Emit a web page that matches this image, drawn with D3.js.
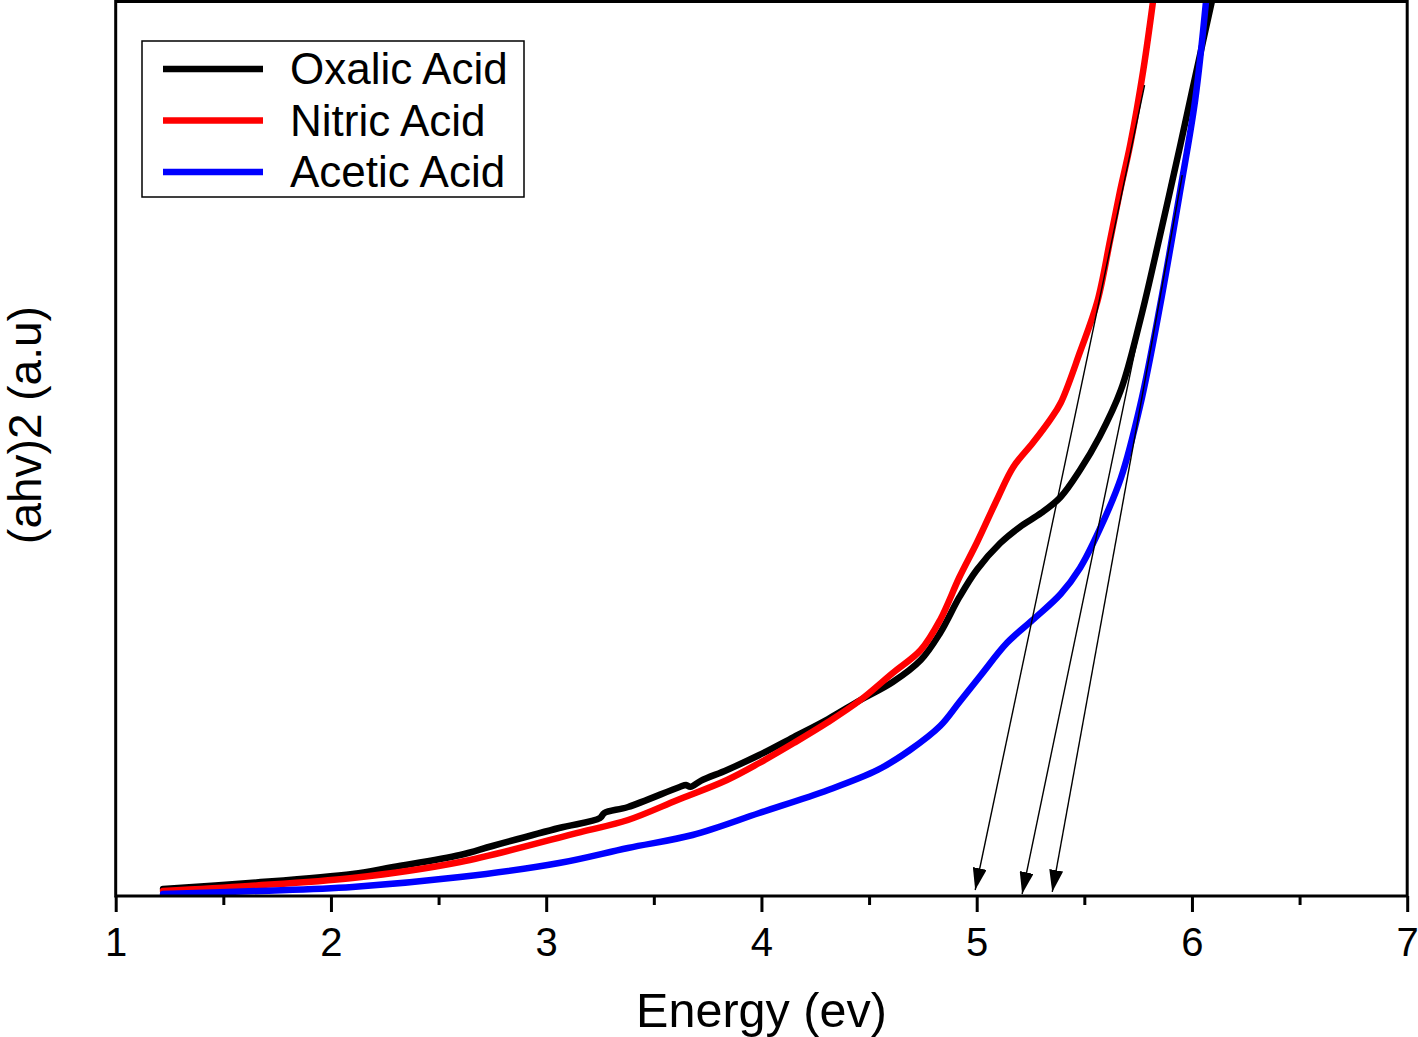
<!DOCTYPE html>
<html>
<head>
<meta charset="utf-8">
<script src="https://cdn.jsdelivr.net/npm/d3@7"></script>
<style>
  html, body { margin: 0; padding: 0; background: #fff; }
  svg { display: block; }
  text { font-family: "Liberation Sans", Arial, sans-serif; fill: #000; }
</style>
</head>
<body>
<svg id="chart" width="1418" height="1037"></svg>
<script>
// ---- Data ----
const seriesNames = ["Oxalic Acid", "Nitric Acid", "Acetic Acid"];
const seriesColors = ["#000000", "#ff0000", "#0000ff"];

const energyOxalic = [1.22, 1.62, 2.10, 2.29, 2.60, 2.75, 3.06, 3.25, 3.27, 3.38, 3.62, 3.65, 3.67, 3.72, 3.84, 3.99, 4.15, 4.31, 4.46, 4.61, 4.74, 4.83, 4.92, 5.00, 5.11, 5.20, 5.30, 5.39, 5.48, 5.57, 5.67, 5.76, 5.85, 5.946, 6.02, 6.094];
const ahvOxalic    = [0.78, 1.45, 2.46, 3.24, 4.58, 5.59, 7.60, 8.72, 9.28, 9.95, 12.19, 12.40, 12.20, 12.90, 14.09, 15.76, 17.77, 19.79, 21.91, 23.92, 26.38, 29.40, 33.43, 36.45, 39.46, 41.25, 42.82, 44.61, 47.62, 51.31, 56.57, 64.39, 73.67, 83.96, 92.12, 100.17];

const energyNitric = [1.22, 1.62, 2.10, 2.60, 3.16, 3.38, 3.61, 3.84, 3.99, 4.15, 4.31, 4.46, 4.61, 4.74, 4.83, 4.92, 5.00, 5.10, 5.17, 5.26, 5.34, 5.39, 5.48, 5.56, 5.62, 5.667, 5.713, 5.774, 5.82];
const ahvNitric    = [0.56, 1.12, 2.01, 3.80, 7.15, 8.50, 10.73, 12.97, 14.87, 17.10, 19.45, 21.91, 24.93, 27.50, 30.86, 35.66, 39.46, 44.61, 47.96, 50.64, 53.21, 55.11, 60.82, 66.41, 73.34, 78.93, 83.96, 92.34, 100.17];

const energyAcetic = [1.22, 1.67, 2.10, 2.60, 3.06, 3.38, 3.68, 3.99, 4.31, 4.54, 4.69, 4.83, 4.92, 5.02, 5.14, 5.26, 5.39, 5.48, 5.57, 5.67, 5.76, 5.85, 5.946, 6.015, 6.066];
const ahvAcetic    = [0.22, 0.56, 1.01, 2.12, 3.69, 5.37, 6.82, 9.28, 11.85, 14.09, 16.32, 19.00, 21.69, 24.71, 28.28, 30.86, 33.76, 36.67, 40.92, 46.73, 54.89, 65.74, 78.93, 88.99, 100.17];

// tangent-line arrows: start (energy, value) -> end (energy, value)
const arrowStartEnergy = [5.78, 5.90, 5.955];
const arrowStartValue  = [90.66, 80.04, 80.60];
const arrowEndEnergy   = [4.993, 5.211, 5.351];
const arrowEndValue    = [0.67, 0.22, 0.45];

const xTickValues = [1, 2, 3, 4, 5, 6, 7];
const xMinorTickValues = [1.5, 2.5, 3.5, 4.5, 5.5, 6.5];
const xDomain = [1, 7];
const yDomain = [0, 100];

const xTitle = "Energy (ev)";
const yTitle = "(ahv)2 (a.u)";

// ---- Layout ----
const plotLeft = 115.7, plotRight = 1407.2, plotTop = 1.5, plotBottom = 896;

const svg = d3.select("#chart");
const x = d3.scaleLinear().domain(xDomain).range([plotLeft, plotRight]);
const y = d3.scaleLinear().domain(yDomain).range([plotBottom, plotTop]);

const defs = svg.append("defs");
defs.append("clipPath").attr("id", "plotClip")
  .append("rect")
  .attr("x", plotLeft).attr("y", plotTop)
  .attr("width", plotRight - plotLeft).attr("height", plotBottom - plotTop);

defs.append("marker")
  .attr("id", "arrowHead")
  .attr("markerUnits", "userSpaceOnUse")
  .attr("markerWidth", 22).attr("markerHeight", 14)
  .attr("refX", 22).attr("refY", 7)
  .attr("orient", "auto")
  .append("path").attr("d", "M0,0 L22,7 L0,14 Z").attr("fill", "#000");

// ---- Curves ----
const seriesData = [
  energyOxalic.map((e, i) => [e, ahvOxalic[i]]),
  energyNitric.map((e, i) => [e, ahvNitric[i]]),
  energyAcetic.map((e, i) => [e, ahvAcetic[i]])
];

const line = d3.line()
  .x(d => x(d[0]))
  .y(d => y(d[1]))
  .curve(d3.curveCatmullRom.alpha(0.5));

const curves = svg.append("g").attr("clip-path", "url(#plotClip)");
seriesData.forEach((data, i) => {
  curves.append("path")
    .datum(data)
    .attr("d", line)
    .attr("fill", "none")
    .attr("stroke", seriesColors[i])
    .attr("stroke-width", 6.5)
    .attr("stroke-linejoin", "round")
    .attr("stroke-linecap", "round");
});

// ---- Arrows ----
arrowStartEnergy.forEach((e, i) => {
  svg.append("line")
    .attr("x1", x(e)).attr("y1", y(arrowStartValue[i]))
    .attr("x2", x(arrowEndEnergy[i])).attr("y2", y(arrowEndValue[i]))
    .attr("stroke", "#000")
    .attr("stroke-width", 1.4)
    .attr("marker-end", "url(#arrowHead)");
});

// ---- Frame ----
svg.append("rect")
  .attr("x", plotLeft).attr("y", plotTop)
  .attr("width", plotRight - plotLeft).attr("height", plotBottom - plotTop)
  .attr("fill", "none").attr("stroke", "#000").attr("stroke-width", 3);

// ---- X axis ----
const xAxis = d3.axisBottom(x).tickValues(xTickValues).tickSize(16).tickPadding(16)
  .tickFormat(d3.format("d"));
const gx = svg.append("g").attr("transform", `translate(0,${plotBottom})`).call(xAxis);
gx.select(".domain").remove();
gx.selectAll(".tick line").attr("stroke", "#000").attr("stroke-width", 3);
gx.selectAll(".tick text")
  .attr("font-family", '"Liberation Sans", Arial, sans-serif')
  .attr("font-size", 40).attr("fill", "#000");

const xMinor = d3.axisBottom(x).tickValues(xMinorTickValues).tickSize(9).tickFormat("");
const gxm = svg.append("g").attr("transform", `translate(0,${plotBottom})`).call(xMinor);
gxm.select(".domain").remove();
gxm.selectAll(".tick line").attr("stroke", "#000").attr("stroke-width", 3);

// ---- Axis titles ----
svg.append("text")
  .attr("x", (plotLeft + plotRight) / 2)
  .attr("y", 1027)
  .attr("text-anchor", "middle")
  .attr("font-size", 48.5)
  .text(xTitle);

svg.append("text")
  .attr("transform", `translate(41,${425}) rotate(-90)`)
  .attr("text-anchor", "middle")
  .attr("font-size", 46)
  .text(yTitle);

// ---- Legend ----
const legend = svg.append("g");
legend.append("rect")
  .attr("x", 142).attr("y", 41).attr("width", 382).attr("height", 156)
  .attr("fill", "#fff").attr("stroke", "#000").attr("stroke-width", 1.5);
seriesNames.forEach((name, i) => {
  const cy = 69 + i * 51.5;
  legend.append("line")
    .attr("x1", 163).attr("x2", 263).attr("y1", cy).attr("y2", cy)
    .attr("stroke", seriesColors[i]).attr("stroke-width", 6.5);
  legend.append("text")
    .attr("x", 290).attr("y", cy + 15)
    .attr("font-size", 44)
    .text(name);
});
</script>
</body>
</html>
